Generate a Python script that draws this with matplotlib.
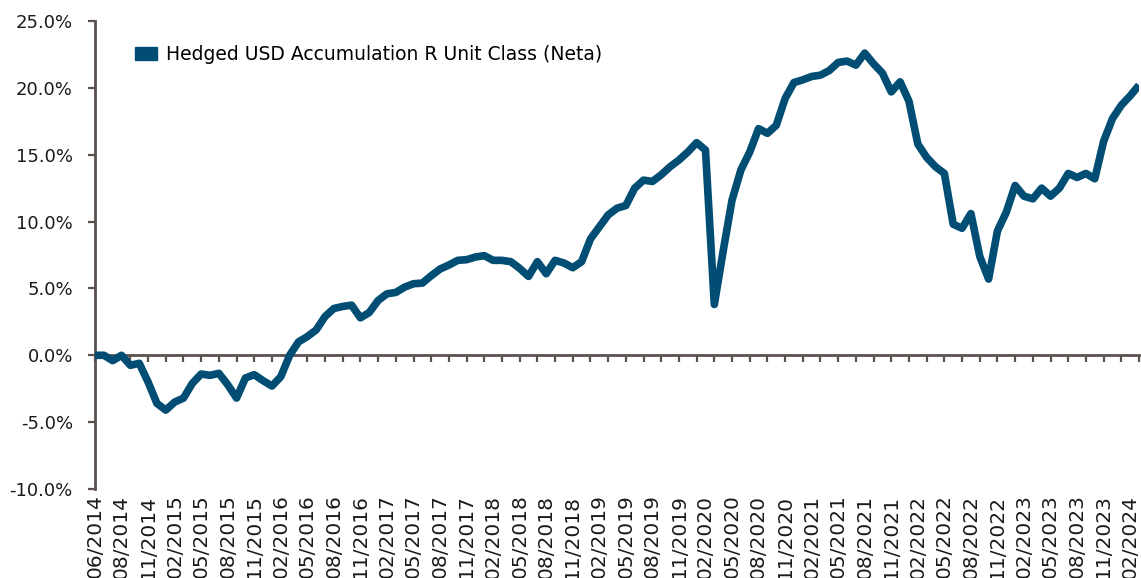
import matplotlib
matplotlib.use("Agg")
import matplotlib.pyplot as plt
from matplotlib.patches import Patch
from matplotlib.ticker import FixedLocator, FuncFormatter

# ---- data -------------------------------------------------------------
series_name = "Hedged USD Accumulation R Unit Class (Neta)"

# first category is the inception point (06/2014), then month-ends from 06/2014
months = ["06/2014"] + [f"{(5 + k) % 12 + 1:02d}/{2014 + (5 + k) // 12}" for k in range(118)]

returns = [
    0.0, 0.0, -0.4, 0.0, -0.75, -0.6, -2.0, -3.6, -4.1, -3.5,
    -3.2, -2.1, -1.4, -1.5, -1.35, -2.2, -3.2, -1.7, -1.45, -1.9,
    -2.3, -1.6, 0.0, 1.0, 1.4, 1.9, 2.9, 3.5, 3.65, 3.75,
    2.8, 3.2, 4.1, 4.6, 4.7, 5.1, 5.35, 5.4, 5.95, 6.45,
    6.75, 7.1, 7.15, 7.35, 7.45, 7.1, 7.1, 7.0, 6.5, 5.9,
    7.0, 6.1, 7.1, 6.9, 6.55, 7.0, 8.7, 9.6, 10.5, 11.0,
    11.2, 12.5, 13.1, 13.0, 13.5, 14.1, 14.6, 15.2, 15.9, 15.35,
    3.8, 7.8, 11.6, 13.85, 15.2, 16.95, 16.6, 17.2, 19.2, 20.4,
    20.6, 20.85, 20.95, 21.3, 21.9, 22.0, 21.7, 22.6, 21.8, 21.1,
    19.7, 20.45, 19.0, 15.8, 14.8, 14.1, 13.6, 9.8, 9.5, 10.6,
    7.4, 5.7, 9.3, 10.7, 12.7, 11.9, 11.7, 12.5, 11.9, 12.5,
    13.6, 13.3, 13.6, 13.2, 16.0, 17.7, 18.7, 19.4, 20.2,
]

y_ticks = [-10, -5, 0, 5, 10, 15, 20, 25]

# ---- style ------------------------------------------------------------
line_color = "#014d73"
axis_color = "#5b5250"
text_color = "#1a1a1a"
plt.rcParams["font.family"] = ["DejaVu Sans"]

fig = plt.figure(figsize=(11.41, 5.78), dpi=100)
ax = fig.add_axes([95 / 1141, 89 / 578, 1044 / 1141, 468 / 578])

x = list(range(len(returns)))
ax.plot(x, returns, color=line_color, linewidth=5.5, solid_joinstyle="round",
        solid_capstyle="butt", zorder=3)

ax.set_xlim(0, len(returns) - 1)
ax.set_ylim(y_ticks[0], y_ticks[-1])

# y axis
ax.set_yticks(y_ticks)
ax.yaxis.set_major_formatter(FuncFormatter(lambda v, p: f"{v:.1f}%"))
ax.tick_params(axis="y", direction="out", length=5, width=1.6, color=axis_color,
               labelsize=13, pad=11, labelcolor=text_color)
ax.spines["left"].set_color(axis_color)
ax.spines["left"].set_linewidth(2)

# x axis line through zero with small tick marks every 2 categories
ax.spines["bottom"].set_position(("data", 0))
ax.spines["bottom"].set_color(axis_color)
ax.spines["bottom"].set_linewidth(2)
ax.xaxis.set_major_locator(FixedLocator(x[::2]))
ax.tick_params(axis="x", direction="out", length=5, width=1.6, color=axis_color,
               labelbottom=False)
ax.spines["top"].set_visible(False)
ax.spines["right"].set_visible(False)

# category labels at the bottom, every 3 categories
sec = ax.secondary_xaxis("bottom")
sec.set_xticks(x[::3])
sec.set_xticklabels(months[::3], rotation=90, fontsize=14.5, color=text_color)
sec.tick_params(axis="x", length=0, pad=4)
sec.spines["bottom"].set_visible(False)

# legend
handle = Patch(facecolor=line_color, edgecolor=line_color)
ax.legend([handle], [series_name], loc="upper left",
          bbox_to_anchor=(0.022, 0.985), frameon=False, fontsize=13.5,
          handlelength=1.2, handleheight=0.65, handletextpad=0.45)

fig.savefig("out.png", dpi=100)
